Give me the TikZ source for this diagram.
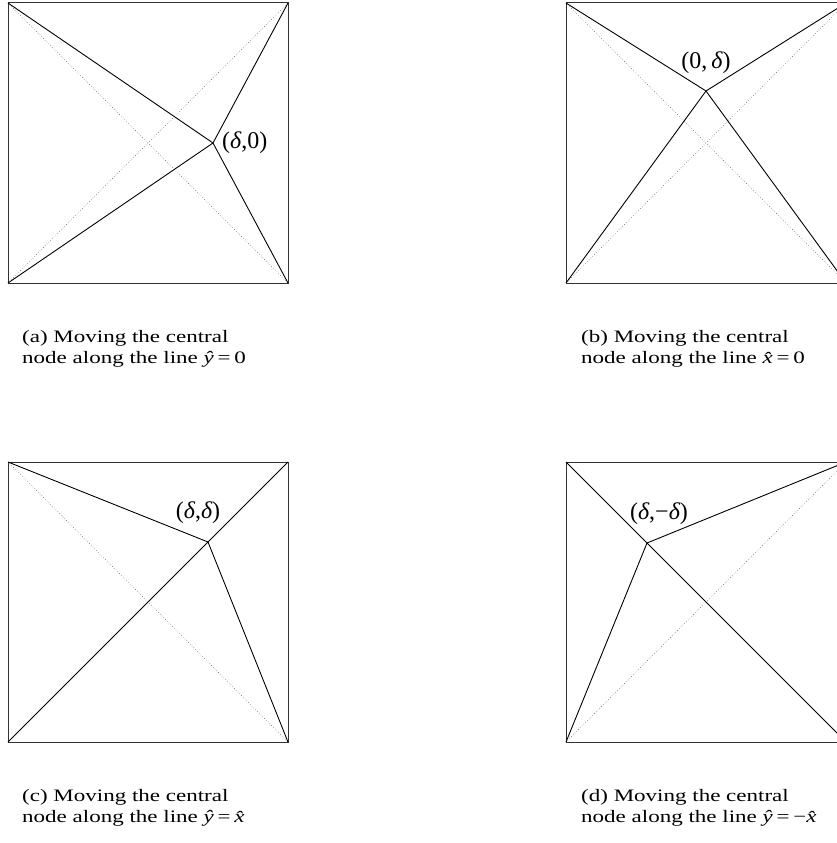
\documentclass[tikz,border=0pt]{standalone}
\usepackage{fontspec}
\setmainfont{Liberation Serif}
\usetikzlibrary{positioning}

% caption squeezed in height as in the figure
\newcommand{\capbox}[1]{\scalebox{1}[0.76]{\begin{tabular}{@{}l@{}}#1\end{tabular}}}

\begin{document}
\begin{tikzpicture}[x=1pt, y=-1pt,
		frame/.style={line width=1pt, draw=black!80},
		edge/.style={line width=0.9pt},
		diag/.style={dotted, line width=0.5pt, draw=black!70},
		lab/.style={font=\fontsize{24}{28}\selectfont, inner sep=1pt},
		captext/.style={font=\fontsize{23}{28}\selectfont, anchor=north west, inner sep=0pt}
		]
		\useasboundingbox (0,0) rectangle (837,843);
		
		% (a) central node moved right
		\coordinate (a-tl) at (8,3);   \coordinate (a-tr) at (288,3);
		\coordinate (a-bl) at (8,283); \coordinate (a-br) at (288,283);
		\coordinate (a-c) at (213,143);
		\draw[frame] (a-tl) rectangle (a-br);
		\draw[diag] (a-tl) -- (a-br);
		\draw[diag] (a-bl) -- (a-tr);
		\draw[edge] (a-tl) -- (a-c) -- (a-br);
		\draw[edge] (a-bl) -- (a-c) -- (a-tr);
		\node[lab, right=8pt of a-c] (a-lab) {({\itshape δ},0)};
		\node[captext] (a-cap) at (22,327) {\capbox{(a) Moving the central\\node along the line {\itshape ŷ}\,=\,0}};
		
		% (b) central node moved up
		\coordinate (b-tl) at (566,3);   \coordinate (b-tr) at (846,3);
		\coordinate (b-bl) at (566,283); \coordinate (b-br) at (846,283);
		\coordinate (b-c) at (706,91);
		\draw[frame] (b-tl) rectangle (b-br);
		\draw[diag] (b-tl) -- (b-br);
		\draw[diag] (b-bl) -- (b-tr);
		\draw[edge] (b-tl) -- (b-c) -- (b-br);
		\draw[edge] (b-bl) -- (b-c) -- (b-tr);
		\node[lab, above=16pt of b-c] (b-lab) {(0,\,{\itshape δ})};
		\node[captext] (b-cap) at (581,327) {\capbox{(b) Moving the central\\node along the line {\itshape x̂}\,=\,0}};
		
		% (c) central node on the diagonal
		\coordinate (c-tl) at (8,462);   \coordinate (c-tr) at (288,462);
		\coordinate (c-bl) at (8,742);   \coordinate (c-br) at (288,742);
		\coordinate (c-c) at (208,542);
		\draw[frame] (c-tl) rectangle (c-br);
		\draw[diag] (c-tl) -- (c-br);
		\draw[edge] (c-tl) -- (c-c) -- (c-br);
		\draw[edge] (c-bl) -- (c-c) -- (c-tr);
		\node[lab, above=17pt of c-c, xshift=-10pt] (c-lab) {({\itshape δ},{\itshape δ})};
		\node[captext] (c-cap) at (22,786) {\capbox{(c) Moving the central\\node along the line {\itshape ŷ}\,=\,{\itshape x̂}}};
		
		% (d) central node on the other diagonal
		\coordinate (d-tl) at (566,462); \coordinate (d-tr) at (846,462);
		\coordinate (d-bl) at (566,742); \coordinate (d-br) at (846,742);
		\coordinate (d-c) at (647,543);
		\draw[frame] (d-tl) rectangle (d-br);
		\draw[diag] (d-bl) -- (d-tr);
		\draw[edge] (d-tl) -- (d-c) -- (d-br);
		\draw[edge] (d-bl) -- (d-c) -- (d-tr);
		\node[lab, above=17pt of d-c, xshift=12pt] (d-lab) {({\itshape δ},−{\itshape δ})};
		\node[captext] (d-cap) at (581,786) {\capbox{(d) Moving the central\\node along the line {\itshape ŷ}\,=\,−{\itshape x̂}}};
	\end{tikzpicture}
\end{document}
